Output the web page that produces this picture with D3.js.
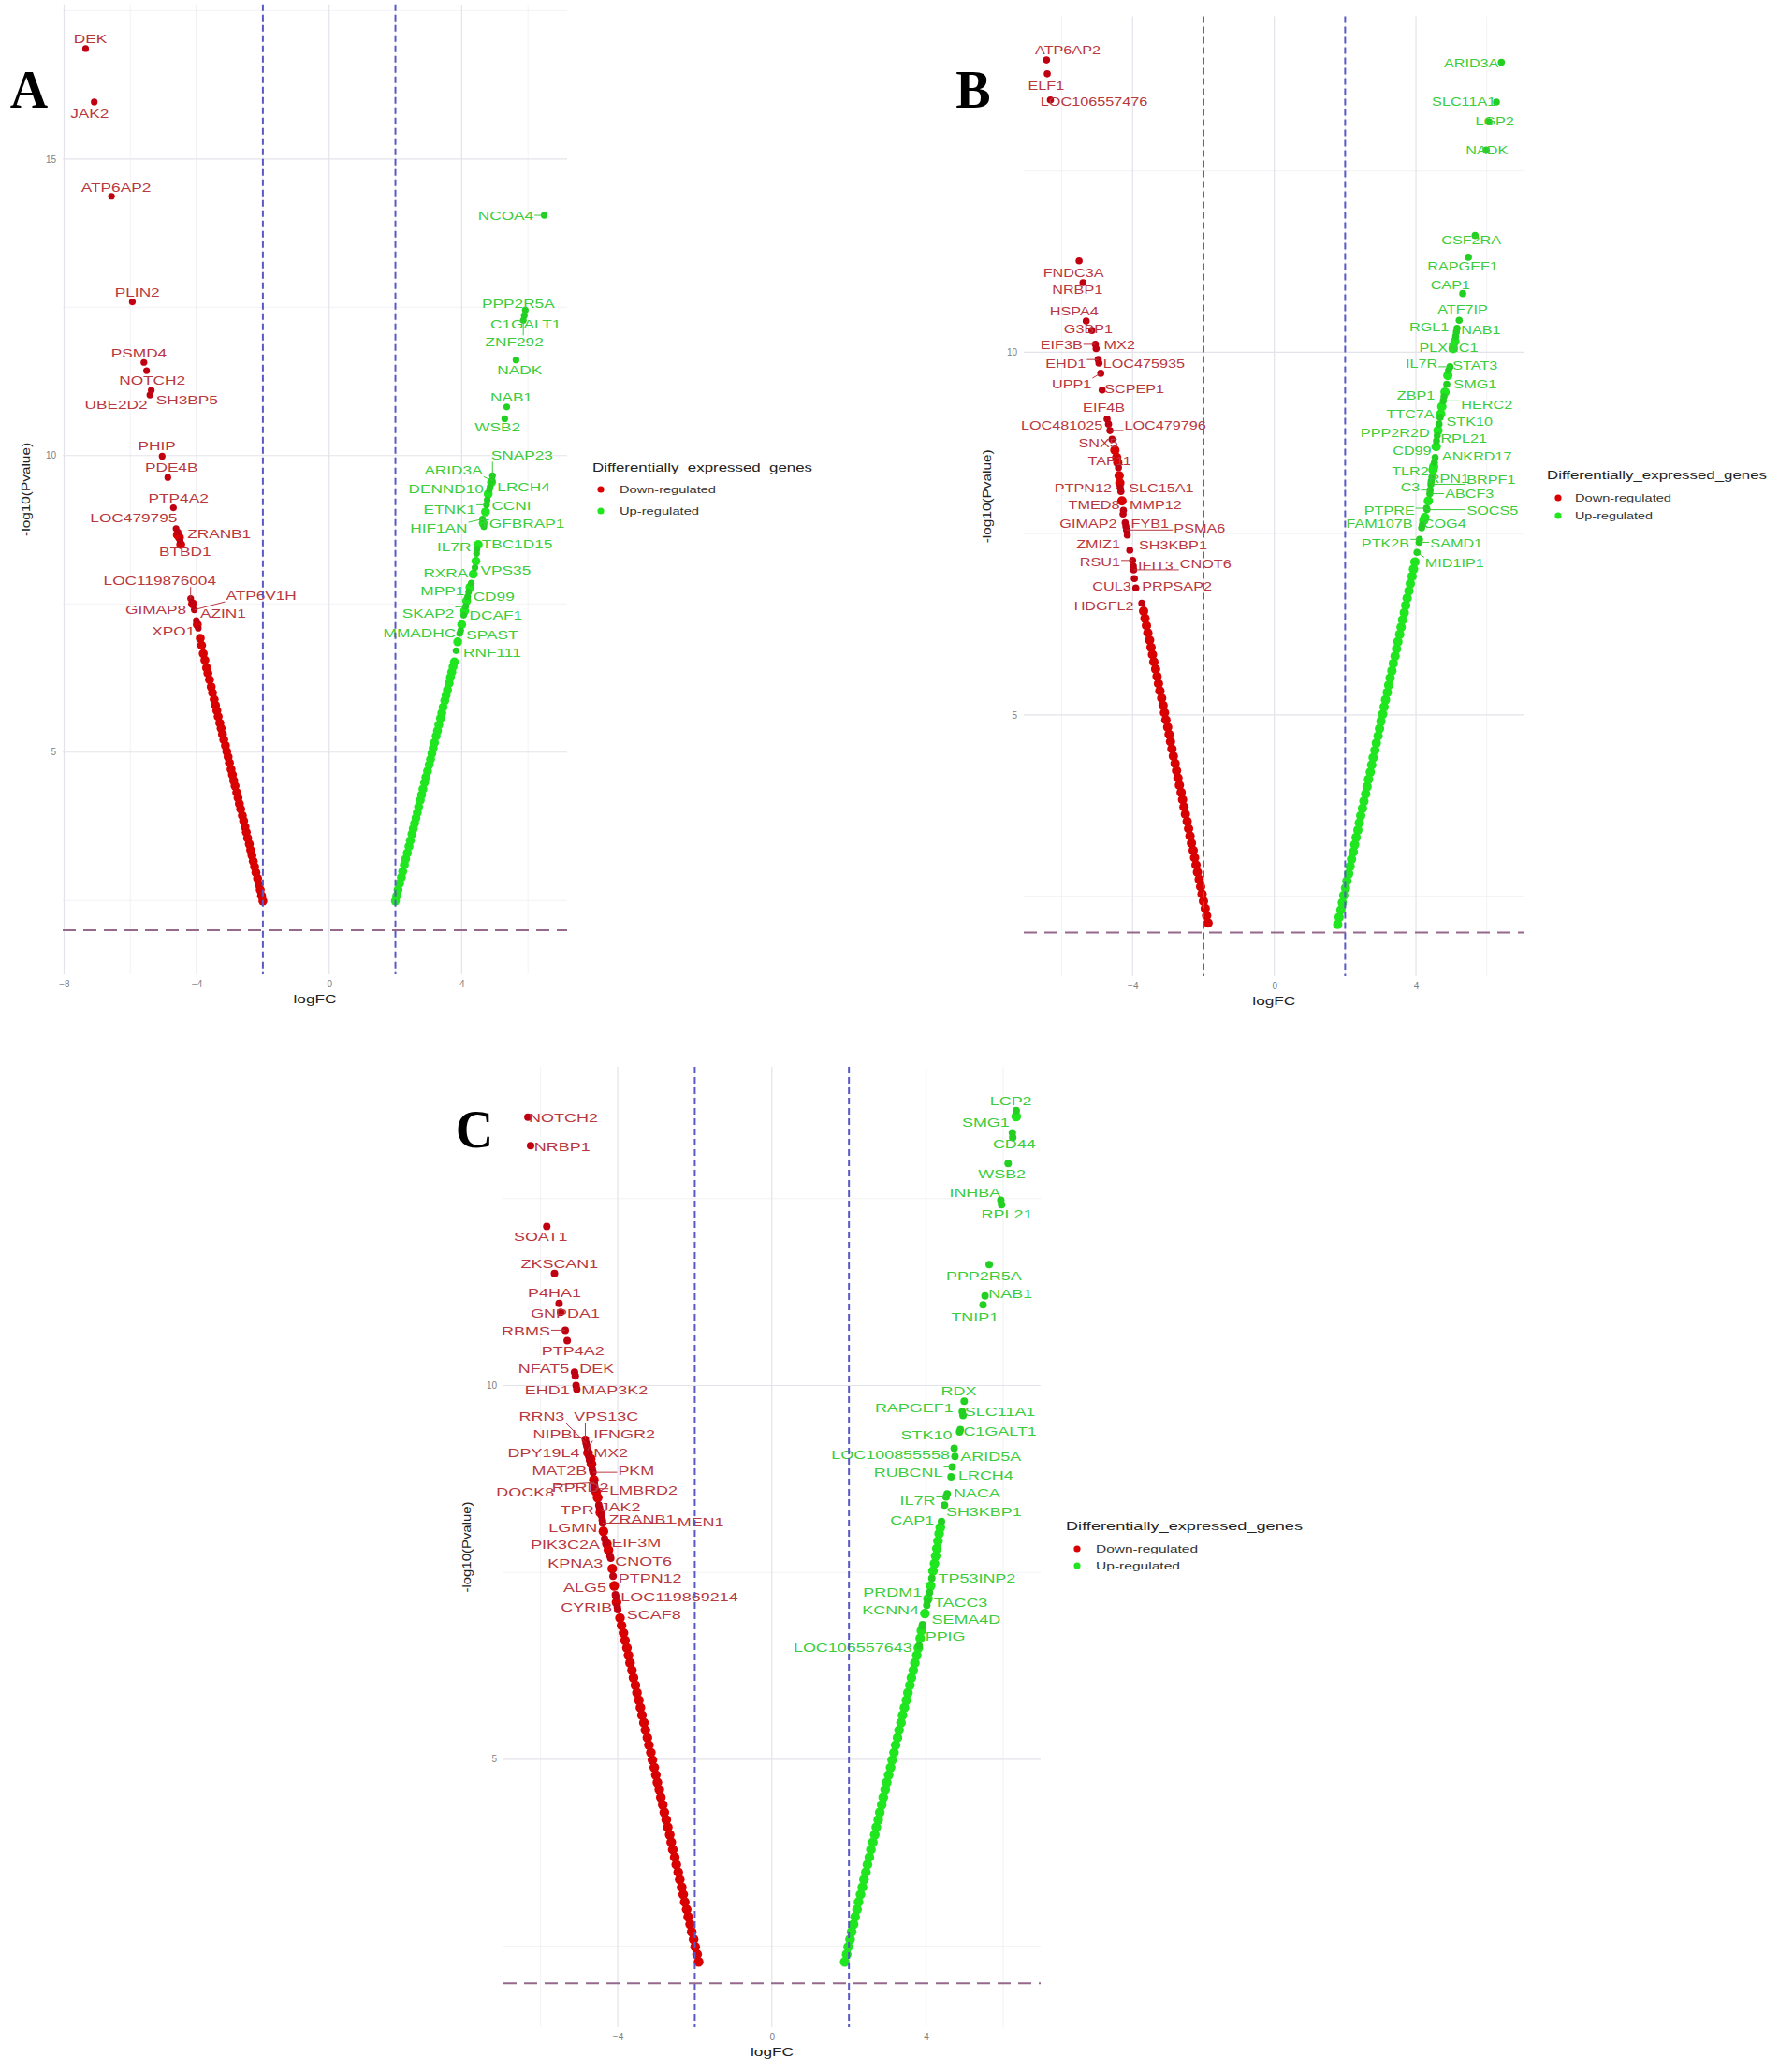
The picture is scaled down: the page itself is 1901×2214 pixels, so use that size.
<!DOCTYPE html>
<html><head><meta charset="utf-8">
<script src="https://cdn.jsdelivr.net/npm/d3@7"></script>
<style>body{margin:0;background:#fff}</style>
</head><body>
<svg id="fig" width="1901" height="2214" xmlns="http://www.w3.org/2000/svg"></svg>
<script>
// ---------------- thresholds & legend ----------------
const fcCut = [-2, 2];
const pCut = 2;
const groups = ["Down-regulated", "Up-regulated"];
const legendTitle = "Differentially_expressed_genes";

// ---------------- Panel A ----------------
const A_xTicks = [-8, -4, 0, 4];
const A_yTicks = [5, 10, 15];
const A_downGenes = [["DEK",-7.35,16.86],["JAK2",-7.09,15.96],["ATP6AP2",-6.57,14.37],["PLIN2",-5.94,12.59],["PSMD4",-5.59,11.57],["NOTCH2",-5.51,11.43],["UBE2D2",-5.41,11.02],["SH3BP5",-5.37,11.10],["PHIP",-5.04,9.99],["PDE4B",-4.87,9.63],["PTP4A2",-4.70,9.12],["LOC479795",-4.62,8.77],["ZRANB1",-4.56,8.71],["BTBD1",-4.50,8.56],["LOC119876004",-4.18,7.59],["ATP6V1H",-4.07,7.40],["GIMAP8",-4.12,7.50],["AZIN1",-4.01,7.22],["XPO1",-3.95,7.09]];
const A_upGenes = [["NCOA4",6.49,14.05],["PPP2R5A",5.92,12.45],["C1GALT1",5.89,12.36],["ZNF292",5.86,12.28],["NADK",5.64,11.61],["NAB1",5.36,10.82],["WSB2",5.30,10.62],["SNAP23",4.93,9.66],["ARID3A",4.92,9.58],["LRCH4",4.86,9.48],["DENND10",4.84,9.43],["CCNI",4.77,9.25],["ETNK1",4.75,9.17],["HIF1AN",4.63,8.93],["TGFBRAP1",4.67,8.80],["IL7R",4.46,8.42],["TBC1D15",4.45,8.35],["VPS35",4.40,8.11],["RXRA",4.29,7.85],["MPP1",4.21,7.70],["CD99",4.18,7.62],["SKAP2",4.12,7.46],["DCAF1",4.06,7.31],["SPAST",3.97,7.05],["MMADHC",3.94,7.00],["RNF111",3.83,6.71]];
const A_downStreak = [[-2.00,2.49],[-2.04,2.58],[-2.08,2.68],[-2.12,2.77],[-2.16,2.87],[-2.21,2.97],[-2.25,3.07],[-2.29,3.16],[-2.33,3.26],[-2.37,3.35],[-2.41,3.45],[-2.46,3.55],[-2.50,3.65],[-2.54,3.74],[-2.58,3.84],[-2.62,3.93],[-2.67,4.04],[-2.71,4.13],[-2.75,4.23],[-2.79,4.32],[-2.84,4.43],[-2.88,4.52],[-2.92,4.62],[-2.96,4.71],[-3.01,4.82],[-3.05,4.92],[-3.09,5.01],[-3.13,5.11],[-3.18,5.21],[-3.22,5.30],[-3.26,5.40],[-3.30,5.49],[-3.35,5.60],[-3.39,5.70],[-3.43,5.79],[-3.47,5.89],[-3.52,6.00],[-3.56,6.10],[-3.61,6.22],[-3.66,6.33],[-3.70,6.42],[-3.75,6.55],[-3.80,6.66],[-3.85,6.80],[-3.89,6.92],[-3.98,7.15],[-4.12,7.50],[-4.48,8.50],[-4.52,8.62],[-4.58,8.66]];
const A_upStreak = [[2.00,2.49],[2.04,2.58],[2.08,2.68],[2.13,2.79],[2.18,2.89],[2.22,2.99],[2.27,3.10],[2.31,3.20],[2.36,3.30],[2.41,3.41],[2.45,3.51],[2.50,3.62],[2.54,3.71],[2.58,3.80],[2.62,3.89],[2.66,3.98],[2.70,4.08],[2.75,4.19],[2.79,4.28],[2.83,4.38],[2.88,4.49],[2.92,4.58],[2.97,4.68],[3.02,4.79],[3.06,4.88],[3.10,4.98],[3.14,5.07],[3.18,5.16],[3.23,5.27],[3.27,5.36],[3.31,5.46],[3.36,5.57],[3.40,5.66],[3.44,5.76],[3.49,5.87],[3.53,5.96],[3.57,6.05],[3.62,6.16],[3.66,6.26],[3.70,6.35],[3.74,6.44],[3.78,6.52],[3.88,6.86],[4.00,7.15],[4.09,7.38],[4.15,7.55],[4.25,7.78],[4.35,8.00],[4.43,8.22],[4.50,8.50],[4.65,8.86],[4.72,9.05],[4.80,9.35],[4.90,9.55]];
// label anchors (data units), ggrepel-style placement
const A_downLabelAt = [[-7.21,17.03],[-7.23,15.77],[-6.43,14.52],[-5.79,12.75],[-5.74,11.73],[-5.34,11.26],[-6.43,10.86],[-4.29,10.94],[-5.20,10.16],[-4.76,9.80],[-4.55,9.28],[-5.90,8.94],[-3.32,8.68],[-4.35,8.38],[-5.11,7.89],[-2.05,7.64],[-5.23,7.40],[-3.20,7.34],[-4.70,7.04]];
const A_upLabelAt = [[5.33,14.05],[5.71,12.56],[5.93,12.22],[5.59,11.92],[5.75,11.44],[5.50,10.99],[5.08,10.47],[5.82,10.00],[3.75,9.75],[5.87,9.47],[3.53,9.44],[5.50,9.16],[3.63,9.09],[3.31,8.77],[5.82,8.86],[3.77,8.46],[5.67,8.51],[5.33,8.07],[3.52,8.02],[3.42,7.71],[4.97,7.62],[2.99,7.34],[5.03,7.31],[4.92,6.98],[2.73,7.01],[4.92,6.67]];

// ---------------- Panel B ----------------
const B_xTicks = [-4, 0, 4];
const B_yTicks = [5, 10];
const B_downGenes = [["ATP6AP2",-6.43,14.03],["ELF1",-6.41,13.84],["LOC106557476",-6.32,13.48],["FNDC3A",-5.51,11.26],["NRBP1",-5.40,10.96],["HSPA4",-5.31,10.43],["G3BP1",-5.15,10.30],["EIF3B",-5.05,10.11],["MX2",-5.03,10.05],["EHD1",-4.97,9.90],["LOC475935",-4.95,9.85],["UPP1",-4.90,9.71],["SCPEP1",-4.86,9.48],["EIF4B",-4.72,9.08],["LOC481025",-4.68,9.01],["LOC479796",-4.64,8.92],["SNX5",-4.58,8.80],["TAF11",-4.40,8.41],["PTPN12",-4.35,8.13],["SLC15A1",-4.33,8.08],["TMED8",-4.27,7.77],["MMP12",-4.26,7.82],["GIMAP2",-4.21,7.65],["FYB1",-4.19,7.60],["PSMA6",-4.17,7.55],["ZMIZ1",-4.15,7.48],["SH3KBP1",-4.08,7.27],["RSU1",-4.00,7.13],["IFIT3",-3.98,7.05],["CNOT6",-3.97,7.00],["CUL3",-3.95,6.88],["PRPSAP2",-3.91,6.75],["HDGFL2",-3.74,6.54]];
const B_upGenes = [["ARID3A",6.41,14.00],["SLC11A1",6.27,13.45],["LGP2",6.06,13.18],["NADK",5.98,12.79],["CSF2RA",5.67,11.61],["RAPGEF1",5.48,11.31],["CAP1",5.32,10.81],["ATF7IP",5.22,10.44],["RGL1",5.16,10.33],["NAB1",5.14,10.28],["PLXNC1",5.12,10.22],["IL7R",4.96,9.80],["STAT3",4.92,9.75],["SMG1",4.87,9.56],["ZBP1",4.79,9.39],["HERC2",4.77,9.33],["TTC7A",4.68,9.10],["STK10",4.65,9.01],["PPP2R2D",4.60,8.85],["RPL21",4.58,8.78],["CD99",4.54,8.55],["ANKRD17",4.52,8.48],["TLR2",4.45,8.28],["RPN1",4.43,8.22],["BRPF1",4.42,8.18],["C3",4.40,8.10],["ABCF3",4.39,8.05],["PTPRE",4.30,7.85],["SOCS5",4.31,7.83],["COG4",4.18,7.62],["FAM107B",4.16,7.58],["PTK2B",4.10,7.42],["SAMD1",4.09,7.38],["MID1IP1",4.03,7.24]];
const B_downStreak = [[-1.87,2.13],[-1.91,2.23],[-1.95,2.33],[-2.00,2.43],[-2.04,2.53],[-2.08,2.63],[-2.12,2.73],[-2.17,2.83],[-2.21,2.93],[-2.25,3.03],[-2.29,3.13],[-2.34,3.23],[-2.38,3.33],[-2.42,3.43],[-2.46,3.53],[-2.51,3.63],[-2.55,3.73],[-2.59,3.83],[-2.63,3.93],[-2.68,4.03],[-2.72,4.13],[-2.76,4.23],[-2.80,4.33],[-2.85,4.43],[-2.89,4.53],[-2.93,4.63],[-2.97,4.73],[-3.01,4.83],[-3.06,4.93],[-3.10,5.03],[-3.14,5.13],[-3.18,5.23],[-3.23,5.33],[-3.27,5.43],[-3.31,5.53],[-3.35,5.63],[-3.40,5.73],[-3.44,5.83],[-3.48,5.93],[-3.52,6.03],[-3.57,6.13],[-3.61,6.23],[-3.65,6.33],[-3.69,6.43],[-4.30,7.95],[-4.36,8.20],[-4.38,8.30],[-4.42,8.48],[-4.45,8.55],[-4.50,8.65]];
const B_upStreak = [[1.79,2.11],[1.83,2.21],[1.88,2.31],[1.92,2.41],[1.96,2.51],[2.01,2.61],[2.05,2.71],[2.10,2.81],[2.14,2.91],[2.18,3.01],[2.23,3.11],[2.27,3.21],[2.31,3.31],[2.36,3.41],[2.40,3.51],[2.44,3.61],[2.49,3.71],[2.53,3.81],[2.58,3.91],[2.62,4.01],[2.66,4.11],[2.71,4.21],[2.75,4.31],[2.79,4.41],[2.84,4.51],[2.88,4.61],[2.93,4.71],[2.97,4.81],[3.01,4.91],[3.06,5.01],[3.10,5.11],[3.14,5.21],[3.19,5.31],[3.23,5.41],[3.27,5.51],[3.32,5.61],[3.36,5.71],[3.41,5.81],[3.45,5.91],[3.49,6.01],[3.54,6.11],[3.58,6.21],[3.62,6.31],[3.67,6.41],[3.71,6.51],[3.75,6.61],[3.80,6.71],[3.84,6.81],[3.89,6.91],[3.93,7.01],[3.97,7.11],[4.22,7.68],[4.25,7.72],[4.35,7.95],[4.48,8.38],[4.50,8.42],[4.57,8.70],[4.62,8.92],[4.70,9.15],[4.73,9.25],[4.82,9.45],[4.90,9.68],[5.05,10.05],[5.10,10.15]];
const B_downLabelAt = [[-5.83,14.17],[-6.44,13.68],[-5.09,13.45],[-5.67,11.10],[-5.56,10.86],[-5.65,10.56],[-5.25,10.32],[-6.01,10.10],[-4.37,10.10],[-5.89,9.84],[-3.68,9.84],[-5.72,9.56],[-3.95,9.49],[-4.81,9.23],[-6.00,8.99],[-3.08,8.99],[-4.97,8.74],[-4.65,8.50],[-5.40,8.12],[-3.19,8.12],[-5.09,7.89],[-3.35,7.89],[-5.25,7.63],[-3.51,7.63],[-2.11,7.57],[-4.97,7.35],[-2.86,7.34],[-4.92,7.11],[-3.35,7.06],[-1.94,7.08],[-4.59,6.77],[-2.75,6.77],[-4.81,6.50]];
const B_upLabelAt = [[5.56,13.99],[5.35,13.45],[6.22,13.19],[6.00,12.79],[5.56,11.55],[5.32,11.19],[4.97,10.93],[5.32,10.59],[4.37,10.34],[5.83,10.30],[4.92,10.06],[4.16,9.84],[5.67,9.82],[5.67,9.56],[4.00,9.40],[6.00,9.28],[3.84,9.14],[5.51,9.04],[3.41,8.89],[5.35,8.81],[3.89,8.64],[5.72,8.56],[3.84,8.36],[4.93,8.26],[6.12,8.24],[3.84,8.14],[5.51,8.05],[3.25,7.81],[6.16,7.81],[4.81,7.63],[2.97,7.63],[3.14,7.37],[5.14,7.37],[5.09,7.09]];

// ---------------- Panel C ----------------
const C_xTicks = [-4, 0, 4];
const C_yTicks = [5, 10];
const C_downGenes = [["NOTCH2",-6.33,13.59],["NRBP1",-6.26,13.21],["SOAT1",-5.84,12.13],["ZKSCAN1",-5.64,11.50],["P4HA1",-5.52,11.10],["GNPDA1",-5.48,10.98],["RBMS",-5.36,10.74],["PTP4A2",-5.31,10.60],["NFAT5",-5.12,10.18],["DEK",-5.10,10.13],["EHD1",-5.08,10.00],["MAP3K2",-5.06,9.95],["VPS13C",-4.84,9.28],["RRN3",-4.82,9.23],["NIPBL",-4.80,9.19],["IFNGR2",-4.78,9.13],["DPY19L4",-4.75,9.05],["MX2",-4.73,9.00],["MAT2B",-4.66,8.88],["PKM",-4.64,8.84],["DOCK8",-4.61,8.70],["RPRD2",-4.60,8.66],["LMBRD2",-4.59,8.62],["TPR",-4.49,8.40],["JAK2",-4.47,8.36],["LGMN",-4.42,8.26],["ZRANB1",-4.40,8.20],["MEN1",-4.39,8.16],["PIK3C2A",-4.34,7.95],["EIF3M",-4.30,7.90],["CNOT6",-4.20,7.72],["KPNA3",-4.18,7.69],["PTPN12",-4.12,7.45],["ALG5",-4.06,7.20],["LOC119869214",-4.05,7.18],["CYRIB",-4.01,7.04],["SCAF8",-4.00,7.00]];
const C_upGenes = [["LCP2",6.34,13.68],["SMG1",6.24,13.38],["CD44",6.25,13.32],["WSB2",6.13,12.97],["INHBA",5.94,12.48],["RPL21",5.96,12.42],["PPP2R5A",5.64,11.62],["NAB1",5.53,11.20],["TNIP1",5.48,11.08],["RDX",4.99,9.79],["RAPGEF1",4.94,9.65],["SLC11A1",4.96,9.60],["C1GALT1",4.89,9.41],["STK10",4.87,9.38],["LOC100855558",4.73,9.16],["ARID5A",4.75,9.05],["RUBCNL",4.68,8.91],["LRCH4",4.65,8.78],["NACA",4.55,8.55],["IL7R",4.52,8.51],["SH3KBP1",4.48,8.40],["CAP1",4.40,8.18],["TP53INP2",4.15,7.42],["PRDM1",4.09,7.23],["TACC3",4.04,7.12],["KCNN4",4.02,7.06],["SEMA4D",3.91,6.80],["PPIG",3.90,6.78],["LOC106557643",3.82,6.52]];
const C_downStreak = [[-1.90,2.29],[-1.94,2.39],[-1.99,2.49],[-2.03,2.59],[-2.08,2.69],[-2.12,2.79],[-2.17,2.89],[-2.21,2.99],[-2.26,3.09],[-2.30,3.19],[-2.34,3.29],[-2.39,3.39],[-2.43,3.49],[-2.48,3.59],[-2.52,3.69],[-2.57,3.79],[-2.61,3.89],[-2.65,3.99],[-2.70,4.09],[-2.74,4.19],[-2.79,4.29],[-2.83,4.39],[-2.88,4.49],[-2.92,4.59],[-2.97,4.69],[-3.01,4.79],[-3.05,4.89],[-3.10,4.99],[-3.14,5.09],[-3.19,5.19],[-3.23,5.29],[-3.28,5.39],[-3.32,5.49],[-3.37,5.59],[-3.41,5.69],[-3.45,5.79],[-3.50,5.89],[-3.54,5.99],[-3.59,6.09],[-3.63,6.19],[-3.68,6.29],[-3.72,6.39],[-3.76,6.49],[-3.81,6.59],[-3.85,6.69],[-3.90,6.79],[-3.94,6.89],[-4.03,7.10],[-4.09,7.32],[-4.14,7.55],[-4.24,7.80],[-4.28,7.88],[-4.37,8.05],[-4.45,8.30],[-4.52,8.50],[-4.56,8.58],[-4.62,8.74],[-4.68,8.95],[-4.70,9.02],[-4.77,9.10]];
const C_upStreak = [[1.89,2.29],[1.94,2.39],[1.98,2.49],[2.03,2.59],[2.07,2.69],[2.12,2.79],[2.16,2.89],[2.21,2.99],[2.25,3.09],[2.30,3.19],[2.35,3.29],[2.39,3.39],[2.44,3.49],[2.48,3.59],[2.53,3.69],[2.57,3.79],[2.62,3.89],[2.67,3.99],[2.71,4.09],[2.76,4.19],[2.80,4.29],[2.85,4.39],[2.89,4.49],[2.94,4.59],[2.98,4.69],[3.03,4.79],[3.08,4.89],[3.12,4.99],[3.17,5.09],[3.21,5.19],[3.26,5.29],[3.30,5.39],[3.35,5.49],[3.39,5.59],[3.44,5.69],[3.49,5.79],[3.53,5.89],[3.58,5.99],[3.62,6.09],[3.67,6.19],[3.71,6.29],[3.76,6.39],[3.80,6.49],[3.85,6.62],[3.88,6.72],[3.97,6.95],[4.05,7.15],[4.12,7.32],[4.18,7.52],[4.22,7.62],[4.25,7.72],[4.28,7.82],[4.31,7.92],[4.34,8.02],[4.37,8.10],[6.34,13.60]];
const C_downLabelAt = [[-5.41,13.58],[-5.44,13.20],[-6.00,12.00],[-5.51,11.63],[-5.64,11.24],[-5.36,10.97],[-6.38,10.73],[-5.16,10.47],[-5.92,10.23],[-4.54,10.23],[-5.83,9.94],[-4.08,9.94],[-4.30,9.59],[-5.97,9.59],[-5.57,9.35],[-3.83,9.35],[-5.92,9.10],[-4.18,9.10],[-5.51,8.86],[-3.52,8.86],[-6.40,8.58],[-4.97,8.64],[-3.33,8.60],[-5.05,8.34],[-3.93,8.38],[-5.16,8.10],[-3.37,8.21],[-1.85,8.18],[-5.36,7.87],[-3.52,7.90],[-3.33,7.65],[-5.10,7.62],[-3.16,7.42],[-4.85,7.30],[-2.40,7.18],[-4.81,7.04],[-3.06,6.94]];
const C_upLabelAt = [[6.20,13.81],[5.55,13.52],[6.29,13.24],[5.97,12.83],[5.27,12.59],[6.10,12.29],[5.50,11.47],[6.19,11.23],[5.27,10.92],[4.85,9.93],[3.69,9.70],[5.92,9.65],[5.92,9.39],[4.01,9.34],[3.08,9.08],[5.68,9.05],[3.54,8.84],[5.55,8.80],[5.32,8.57],[3.78,8.47],[5.50,8.31],[3.64,8.20],[5.32,7.43],[3.13,7.24],[4.90,7.10],[3.08,7.00],[5.04,6.87],[4.50,6.65],[2.10,6.50]];

// ---------------- styling ----------------
const COL = {downPt:"#d80000", upPt:"#1fe61f", downLab:"#c00010", upLab:"#22d022", downTxt:"#b8383e", upTxt:"#3ccc3c",
  vline:"#5a5ac6", hline:"#94698c", gridMaj:"#e3e3ea", gridMin:"#efeff3", tick:"#808080", title:"#222"};
const FONT = "'Liberation Sans', Arial, Helvetica, sans-serif";

const svg = d3.select("#fig");
svg.append("rect").attr("width",1901).attr("height",2214).attr("fill","#fff");

const panels = [
  {letter:"A", letterPos:[31,115], rect:{l:67,r:606,t:4.8,b:1041}, xTicks:A_xTicks, yTicks:A_yTicks,
   down:A_downGenes, up:A_upGenes, downStreak:A_downStreak, upStreak:A_upStreak, downAt:A_downLabelAt, upAt:A_upLabelAt,
   fs:12.5, sx:1.38, r:3.6, rs:4.8, yTitleLen:100,
   legend:{x:633,y:500,dotX:642,textX:662,y1:523,y2:546,titleLen:235,downLen:103,upLen:85}},
  {letter:"B", letterPos:[1040,115], rect:{l:1094,r:1628.6,t:17.5,b:1043}, xTicks:B_xTicks, yTicks:B_yTicks,
   down:B_downGenes, up:B_upGenes, downStreak:B_downStreak, upStreak:B_upStreak, downAt:B_downLabelAt, upAt:B_upLabelAt,
   fs:12, sx:1.35, r:3.8, rs:5.0, yTitleLen:100,
   legend:{x:1653,y:508,dotX:1665,textX:1683,y1:532,y2:551,titleLen:235,downLen:103,upLen:83}},
  {letter:"C", letterPos:[507,1226], rect:{l:538,r:1112,t:1140,b:2166}, xTicks:C_xTicks, yTicks:C_yTicks,
   down:C_downGenes, up:C_upGenes, downStreak:C_downStreak, upStreak:C_upStreak, downAt:C_downLabelAt, upAt:C_upLabelAt,
   fs:13.5, sx:1.33, r:4.0, rs:5.2, yTitleLen:97,
   legend:{x:1139,y:1631,dotX:1151,textX:1171,y1:1655,y2:1673,titleLen:253,downLen:109,upLen:90}}
];

function expand(vals){ const [a,b]=d3.extent(vals); const p=(b-a)*0.05; return [a-p,b+p]; }
function minors(ticks, dom){
  const step = ticks[1]-ticks[0];
  const out = [];
  for (let v = ticks[0]-step/2; v <= dom[1]; v += step) if (v >= dom[0]) out.push(v);
  return out;
}

panels.forEach(P => {
  const R = P.rect;
  const xs = [].concat(P.down.map(d=>d[1]), P.up.map(d=>d[1]), P.downStreak.map(d=>d[0]), P.upStreak.map(d=>d[0]), fcCut);
  const ys = [].concat(P.down.map(d=>d[2]), P.up.map(d=>d[2]), P.downStreak.map(d=>d[1]), P.upStreak.map(d=>d[1]), [pCut]);
  const xDom = expand(xs), yDom = expand(ys);
  const x = d3.scaleLinear().domain(xDom).range([R.l, R.r]);
  const y = d3.scaleLinear().domain(yDom).range([R.b, R.t]);
  const g = svg.append("g");

  // grid
  const grid = g.append("g");
  grid.selectAll(".xmin").data(minors(P.xTicks, xDom)).join("line")
    .attr("x1",d=>x(d)).attr("x2",d=>x(d)).attr("y1",R.t).attr("y2",R.b)
    .attr("stroke",COL.gridMin).attr("stroke-width",0.8);
  grid.selectAll(".ymin").data(minors(P.yTicks, yDom)).join("line")
    .attr("y1",d=>y(d)).attr("y2",d=>y(d)).attr("x1",R.l).attr("x2",R.r)
    .attr("stroke",COL.gridMin).attr("stroke-width",0.8);
  grid.selectAll(".xmaj").data(P.xTicks).join("line")
    .attr("x1",d=>x(d)).attr("x2",d=>x(d)).attr("y1",R.t).attr("y2",R.b)
    .attr("stroke",COL.gridMaj).attr("stroke-width",1.2);
  grid.selectAll(".ymaj").data(P.yTicks).join("line")
    .attr("y1",d=>y(d)).attr("y2",d=>y(d)).attr("x1",R.l).attr("x2",R.r)
    .attr("stroke",COL.gridMaj).attr("stroke-width",1.2);

  // axes (tick labels only, theme_minimal)
  const ax = g.append("g").attr("transform",`translate(0,${R.b})`)
    .call(d3.axisBottom(x).tickValues(P.xTicks).tickSize(0).tickPadding(7).tickFormat(d3.format("d")));
  const ay = g.append("g").attr("transform",`translate(${R.l},0)`)
    .call(d3.axisLeft(y).tickValues(P.yTicks).tickSize(0).tickPadding(7).tickFormat(d3.format("d")));
  [ax, ay].forEach(a => {
    a.select(".domain").remove();
    a.selectAll("text").attr("fill",COL.tick).attr("font-size",10).attr("font-family",FONT);
  });

  // points
  const pts = g.append("g");
  pts.selectAll(".ds").data(P.downStreak).join("circle")
    .attr("cx",d=>x(d[0])).attr("cy",d=>y(d[1])).attr("r",P.rs).attr("fill",COL.downPt);
  pts.selectAll(".us").data(P.upStreak).join("circle")
    .attr("cx",d=>x(d[0])).attr("cy",d=>y(d[1])).attr("r",P.rs).attr("fill",COL.upPt);
  pts.selectAll(".dg").data(P.down).join("circle")
    .attr("cx",d=>x(d[1])).attr("cy",d=>y(d[2])).attr("r",P.r).attr("fill",COL.downLab);
  pts.selectAll(".ug").data(P.up).join("circle")
    .attr("cx",d=>x(d[1])).attr("cy",d=>y(d[2])).attr("r",P.r).attr("fill",COL.upLab);

  // labels with repel-style segments
  const segG = g.append("g"), txtG = g.append("g");
  function labels(genes, at, col){
    genes.forEach((d,i) => {
      const cx = x(at[i][0]), cy = y(at[i][1]);
      const px = x(d[1]), py = y(d[2]);
      const t = txtG.append("text")
        .attr("transform",`translate(${cx},${cy}) scale(${P.sx},1)`)
        .attr("text-anchor","middle").attr("dy","0.36em")
        .attr("font-family",FONT).attr("font-size",P.fs).attr("fill",col).text(d[0]);
      const w = t.node().getComputedTextLength()*P.sx, h = P.fs*0.75;
      const bx = Math.max(cx-w/2-1, Math.min(px, cx+w/2+1));
      const by = Math.max(cy-h/2-2, Math.min(py, cy+h/2+2));
      if (Math.hypot(px-bx, py-by) > 9) {
        segG.append("line").attr("x1",px).attr("y1",py).attr("x2",bx).attr("y2",by)
          .attr("stroke",col).attr("stroke-width",1);
      }
    });
  }
  labels(P.down, P.downAt, COL.downTxt);
  labels(P.up, P.upAt, COL.upTxt);

  // threshold lines
  g.append("g").selectAll("line").data(fcCut).join("line")
    .attr("x1",d=>x(d)).attr("x2",d=>x(d)).attr("y1",R.t).attr("y2",R.b)
    .attr("stroke",COL.vline).attr("stroke-width",2).attr("stroke-dasharray","7,4");
  g.append("line").attr("x1",R.l).attr("x2",R.r).attr("y1",y(pCut)).attr("y2",y(pCut))
    .attr("stroke",COL.hline).attr("stroke-width",2).attr("stroke-dasharray","14,8");

  // axis titles
  g.append("text").attr("x",(R.l+R.r)/2).attr("y",R.b+27).attr("dy","0.35em")
    .attr("text-anchor","middle").attr("font-family",FONT).attr("font-size",12)
    .attr("textLength",46).attr("lengthAdjust","spacingAndGlyphs").attr("fill",COL.title).text("logFC");
  g.append("text").attr("transform",`translate(${R.l-39},${(R.t+R.b)/2}) rotate(-90)`).attr("dy","0.35em")
    .attr("text-anchor","middle").attr("font-family",FONT).attr("font-size",12)
    .attr("textLength",P.yTitleLen).attr("lengthAdjust","spacingAndGlyphs").attr("fill",COL.title).text("-log10(Pvalue)");

  // panel letter
  g.append("text").attr("x",P.letterPos[0]).attr("y",P.letterPos[1]).attr("text-anchor","middle")
    .attr("font-family","'Liberation Serif','Times New Roman',serif").attr("font-weight","bold")
    .attr("font-size",56).attr("fill","#000").text(P.letter);

  // legend
  const L = P.legend, lg = g.append("g");
  lg.append("text").attr("x",L.x).attr("y",L.y).attr("dy","0.35em").attr("font-family",FONT)
    .attr("font-size",12.5).attr("textLength",L.titleLen).attr("lengthAdjust","spacingAndGlyphs")
    .attr("fill","#222").text(legendTitle);
  const items = [[groups[0],COL.downPt,L.y1,L.downLen],[groups[1],COL.upPt,L.y2,L.upLen]];
  items.forEach(it => {
    lg.append("circle").attr("cx",L.dotX).attr("cy",it[2]).attr("r",3.6).attr("fill",it[1]);
    lg.append("text").attr("x",L.textX).attr("y",it[2]).attr("dy","0.35em").attr("font-family",FONT)
      .attr("font-size",10).attr("textLength",it[3]).attr("lengthAdjust","spacingAndGlyphs")
      .attr("fill","#333").text(it[0]);
  });
});
</script>
</body></html>
